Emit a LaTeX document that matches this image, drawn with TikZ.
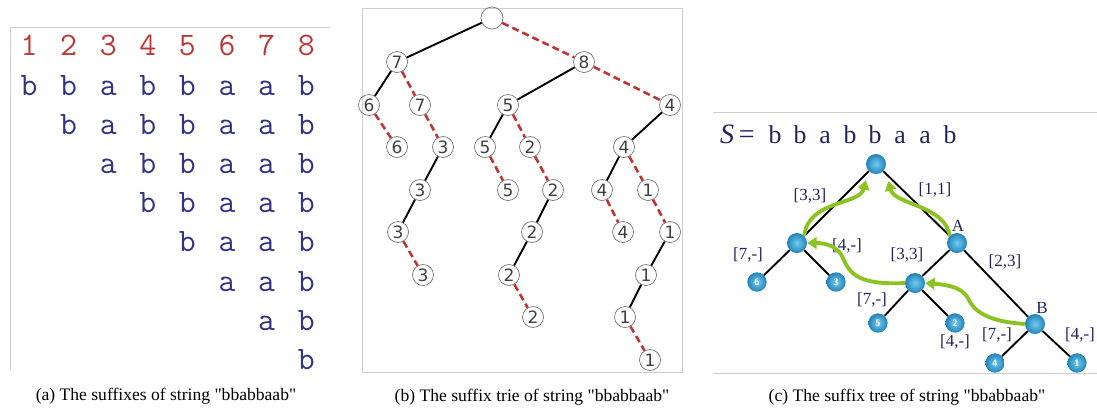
\documentclass[tikz,border=0pt]{standalone}
\usepackage{fontspec}
\setmainfont{Liberation Serif}
\newfontfamily\triefont{DejaVu Sans}
\usetikzlibrary{arrows.meta,positioning}
\definecolor{numred}{RGB}{190,55,55}
\definecolor{chrblue}{RGB}{50,50,135}
\definecolor{triered}{RGB}{195,50,50}
\definecolor{navy}{RGB}{35,35,95}
\definecolor{linkgreen}{RGB}{140,195,35}
\definecolor{ballin}{RGB}{115,205,240}
\definecolor{ballout}{RGB}{35,130,185}
\definecolor{framegray}{RGB}{205,205,205}

\begin{document}
\begin{tikzpicture}[x=0.03cm,y=-0.03cm,
  framel/.style={draw=framegray,line width=0.8pt},
  num/.style={anchor=base,text=numred,font=\ttfamily\fontsize{28}{28}\selectfont},
  chr/.style={anchor=base,text=chrblue,font=\ttfamily\fontsize{28}{28}\selectfont},
  tn/.style={circle,draw=black!55,line width=0.6pt,minimum size=0.63cm,inner sep=0pt,text=black!75,font=\triefont\fontsize{14.5}{14.5}\selectfont},
  sol/.style={line width=1.6pt},
  dsh/.style={draw=triered,line width=2.2pt,dash pattern=on 6pt off 3.5pt},
  tball/.style={circle,shading=radial,inner color=ballin,outer color=ballout,minimum size=0.6cm,inner sep=0pt},
  leaf/.style={tball,minimum width=0.58cm,minimum height=0.52cm,text=white,font=\sffamily\bfseries\fontsize{8}{8}\selectfont},
  lbl/.style={text=navy,font=\fontsize{14.5}{14.5}\selectfont},
  seq/.style={anchor=base,text=navy,font=\fontsize{22}{22}\selectfont},
  link/.style={draw=linkgreen,line width=3.3pt,-{Triangle[length=8pt,width=10pt]}},
  captxt/.style={font=\fontsize{15}{15}\selectfont}]
  \useasboundingbox (0,0) rectangle (1097,407);
  % (a) suffixes
  \draw[framel] (10,370) -- (10,27) -- (330,27);
  \foreach \c/\ch in {1/b,2/b,3/a,4/b,5/b,6/a,7/a,8/b}{
    \node[num] (n\c) at (29+39.6*\c-39.6,55) {\c};
    \foreach \r in {1,...,\c}
      \node[chr] (s\r\c) at (29+39.6*\c-39.6,95+39.2*\r-39.2) {\ch};
  }
  \node[captxt] (capa) at (166,396) {(a) The suffixes of string \textquotedbl bbabbaab\textquotedbl};
  % (b) suffix trie
  \draw[framel] (362,8) rectangle (682,372);
  \node[tn,minimum size=0.66cm] (r) at (492,18) {};
  \node[tn] (a7) at (397,62) {7};
  \node[tn] (a8) at (584,62) {8};
  \node[tn] (b6) at (369,105) {6};
  \node[tn] (b7) at (420,105) {7};
  \node[tn] (b5) at (508,105) {5};
  \node[tn] (b4) at (670,105) {4};
  \node[tn] (c6) at (397,147) {6};
  \node[tn] (c3) at (443,147) {3};
  \node[tn] (c5) at (485,147) {5};
  \node[tn] (c2) at (530,147) {2};
  \node[tn] (c4) at (624,147) {4};
  \node[tn] (d3) at (420,190) {3};
  \node[tn] (d5) at (508,190) {5};
  \node[tn] (d2) at (553,190) {2};
  \node[tn] (d4) at (602,190) {4};
  \node[tn] (d1) at (648,190) {1};
  \node[tn] (e3) at (398,232) {3};
  \node[tn] (e2) at (532,232) {2};
  \node[tn] (e4) at (623,232) {4};
  \node[tn] (e1) at (670,232) {1};
  \node[tn] (f3) at (423,275) {3};
  \node[tn] (f2) at (509,275) {2};
  \node[tn] (f1) at (646,275) {1};
  \node[tn] (g2) at (533,317) {2};
  \node[tn] (g1) at (625,317) {1};
  \node[tn] (h1) at (650,360) {1};
  \foreach \u/\v in {r/a7,a7/b6,a8/b5,b5/c5,b4/c4,c3/d3,c4/d4,d3/e3,d2/e2,e2/f2,e1/f1,f1/g1}
    \draw[sol] (\u) -- (\v);
  \foreach \u/\v in {r/a8,a7/b7,a8/b4,b6/c6,b7/c3,b5/c2,c5/d5,c2/d2,c4/d1,d4/e4,d1/e1,e3/f3,f2/g2,g1/h1}
    \draw[dsh] (\u) -- (\v);
  \node[captxt] (capb) at (532,397) {(b) The suffix trie of string \textquotedbl bbabbaab\textquotedbl};
  % (c) suffix tree
  \draw[framel] (713,112) -- (1097,112);
  \draw[framel] (713,373) -- (1097,373);
  \node[seq,anchor=base west,font=\fontsize{24}{24}\selectfont] (seqS) at (716,143) {\itshape S\upshape\,=};
  \foreach \ch [count=\i] in {b,b,a,b,b,a,a,b}
    \node[seq] (q\i) at (750+25*\i,143) {\ch};
  \node[tball] (tr) at (876,164) {};
  \node[tball] (tl) at (797,243) {};
  \node[tball] (tA) at (957,243) {};
  \node[tball] (tm) at (915,283) {};
  \node[tball] (tB) at (1035,324) {};
  \node[leaf] (x6) at (757,282) {6};
  \node[leaf] (x3) at (836,282) {3};
  \node[leaf] (x5) at (878,323) {5};
  \node[leaf] (x2) at (955,323) {2};
  \node[leaf] (x4) at (995,363) {4};
  \node[leaf] (x1) at (1077,363) {1};
  \foreach \u/\v in {tr/tl,tr/tA,tl/x6,tl/x3,tA/tm,tA/tB,tm/x5,tm/x2,tB/x4,tB/x1}
    \draw[sol] (\u) -- (\v);
  \node[lbl] (l33a) at (810,196) {[3,3]};
  \node[lbl] (l11) at (935,190) {[1,1]};
  \node[lbl] (lA) at (958,226) {A};
  \node[lbl] (l7a) at (748,255) {[7,-]};
  \node[lbl] (l4a) at (847,246) {[4,-]};
  \node[lbl] (l33b) at (907,255) {[3,3]};
  \node[lbl] (l23) at (1005,262) {[2,3]};
  \node[lbl] (l7b) at (872,300) {[7,-]};
  \node[lbl] (lB) at (1042,308) {B};
  \node[lbl] (l4b) at (955,342) {[4,-]};
  \node[lbl] (l7c) at (997,335) {[7,-]};
  \node[lbl] (l4c) at (1080,335) {[4,-]};
  \draw[link] (tl.north east) .. controls (808,200) and (860,205) .. ([shift={(-3,9)}]tr.south west);
  \draw[link] (tA.north west) .. controls (945,205) and (895,205) .. ([shift={(5,10)}]tr.south east);
  \draw[link] (tm.west) .. controls (860,285) and (850,275) .. (843,258) .. controls (838,246) and (825,243) .. (tl.east);
  \draw[link] (tB.west) .. controls (995,322) and (975,315) .. (968,298) .. controls (962,288) and (950,285) .. (tm.east);
  \node[captxt] (capc) at (907,397) {(c) The suffix tree of string \textquotedbl bbabbaab\textquotedbl};
\end{tikzpicture}
\end{document}
